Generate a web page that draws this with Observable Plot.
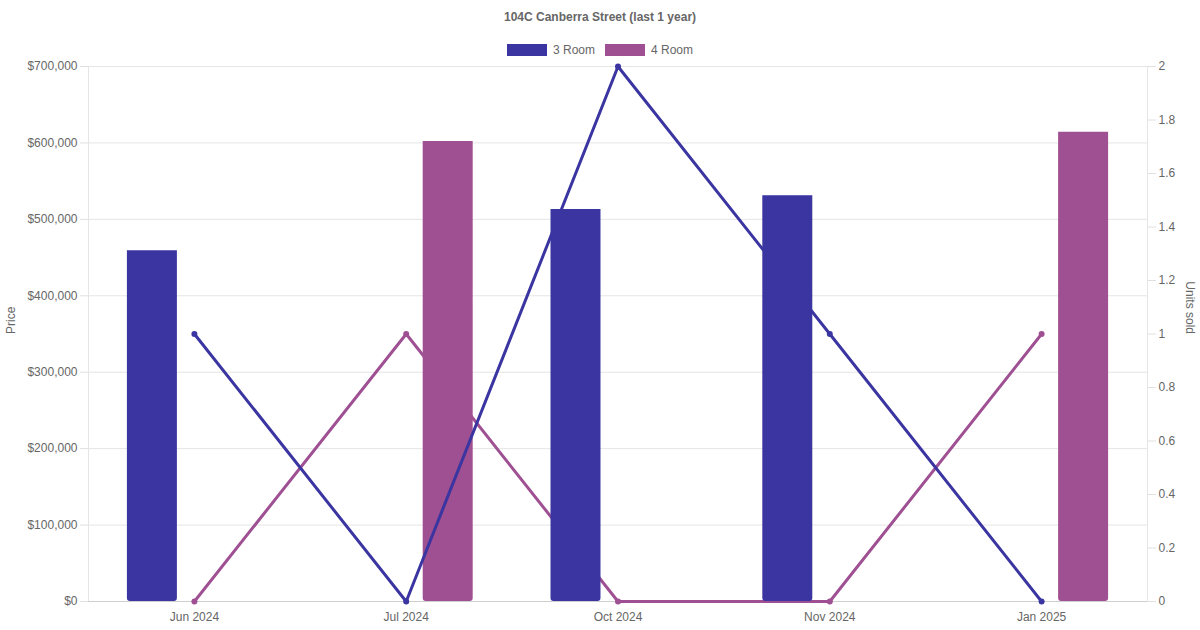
<!DOCTYPE HTML>
<html lang="en-US">
  <head>
    <meta charset="UTF-8">
    <title>104C Canberra Street (last 1 year)</title>
    <style>
      body { margin: 0; background: #fff; font-family: "Liberation Sans", Arial, sans-serif; color: #666; }
      #chart { width: 1200px; height: 630px; position: relative; }
      .title { height: 34px; line-height: 34px; text-align: center; font-size: 12px; font-weight: bold; }
      .legend { height: 24px; margin-top: 4px; display: flex; justify-content: center; align-items: center; gap: 10px; font-size: 12px; }
      .legend span { display: inline-flex; align-items: center; }
      .legend i { display: inline-block; width: 40px; height: 12px; margin-right: 6px; box-sizing: border-box; }
      svg { display: block; }
    </style>
  </head>
  <body>
    <div id="chart">
      <div class="title">104C Canberra Street (last 1 year)</div>
      <div class="legend" id="legend"></div>
    </div>
    <script src="https://cdn.jsdelivr.net/npm/d3@7"></script>
    <script src="https://cdn.jsdelivr.net/npm/@observablehq/plot@0.6"></script>
    <script>
      const months = ['Jun 2024', 'Jul 2024', 'Oct 2024', 'Nov 2024', 'Jan 2025'];
      const price3 = [459000, null, 513000, 531000, null];
      const price4 = [null, 602000, null, null, 614000];
      const units3 = [1, 0, 2, 1, 0];
      const units4 = [0, 1, 0, 0, 1];
      const priceTicks = [0, 100000, 200000, 300000, 400000, 500000, 600000, 700000];
      const unitTicks = [0, 0.2, 0.4, 0.6, 0.8, 1, 1.2, 1.4, 1.6, 1.8, 2];

      const blue = '#3a35a0';
      const purple = '#9f5092';
      const unitScale = 350000; // 2 units at the top of the price axis

      document.getElementById('legend').innerHTML = [['3 Room', blue], ['4 Room', purple]]
        .map(([name, c]) => `<span><i style="background:${c}"></i>${name}</span>`).join('');

      const rows = months.map((month, i) => ({
        month, price3: price3[i], price4: price4[i], units3: units3[i], units4: units4[i]
      }));

      const svg = Plot.plot({
        width: 1200,
        height: 568,
        marginTop: 4,
        marginBottom: 29,
        marginLeft: 88,
        marginRight: 53,
        style: {fontFamily: '"Liberation Sans", Arial, sans-serif', fontSize: '12px', color: '#666', overflow: 'visible'},
        x: {domain: months, type: 'band', paddingInner: 0.764, paddingOuter: 0.382, round: false, label: null},
        y: {domain: [0, 700000], label: null},
        marks: [
          Plot.gridY(priceTicks, {stroke: '#e5e5e5', strokeOpacity: 1}),
          Plot.frame({stroke: '#e5e5e5'}),
          Plot.ruleY([0], {stroke: '#cfcfcf'}),
          Plot.axisX({tickSize: 0, tickPadding: 11, fill: '#666', label: null}),
          Plot.axisY(priceTicks, {
            anchor: 'left', tickSize: 8, tickPadding: 3, stroke: '#e0e0e0', fill: '#666',
            tickFormat: d => '$' + d3.format(',')(d), label: null
          }),
          Plot.axisY(unitTicks.map(u => u * unitScale), {
            anchor: 'right', tickSize: 8, tickPadding: 3, stroke: '#e0e0e0', fill: '#666',
            tickFormat: d => String(+(d / unitScale).toFixed(1)), label: null
          }),
          Plot.text(['Price'], {frameAnchor: 'left', rotate: -90, dx: -77, fill: '#666'}),
          Plot.text(['Units sold'], {frameAnchor: 'right', rotate: 90, dx: 42, fill: '#666'}),
          // draw order: 4 Room line, 4 Room bars, 3 Room line, 3 Room bars
          Plot.line(rows, {x: 'month', y: d => d.units4 * unitScale, stroke: purple, strokeWidth: 3}),
          Plot.dot(rows, {x: 'month', y: d => d.units4 * unitScale, r: 3, fill: purple}),
          Plot.barY(rows.filter(d => d.price4 != null), {x: 'month', y: 'price4', fill: purple, dx: 42, ry2: 3}),
          Plot.line(rows, {x: 'month', y: d => d.units3 * unitScale, stroke: blue, strokeWidth: 3}),
          Plot.dot(rows, {x: 'month', y: d => d.units3 * unitScale, r: 3, fill: blue}),
          Plot.barY(rows.filter(d => d.price3 != null), {x: 'month', y: 'price3', fill: blue, dx: -42, ry2: 3})
        ]
      });
      document.getElementById('chart').appendChild(svg);
    </script>
  </body>
</html>
